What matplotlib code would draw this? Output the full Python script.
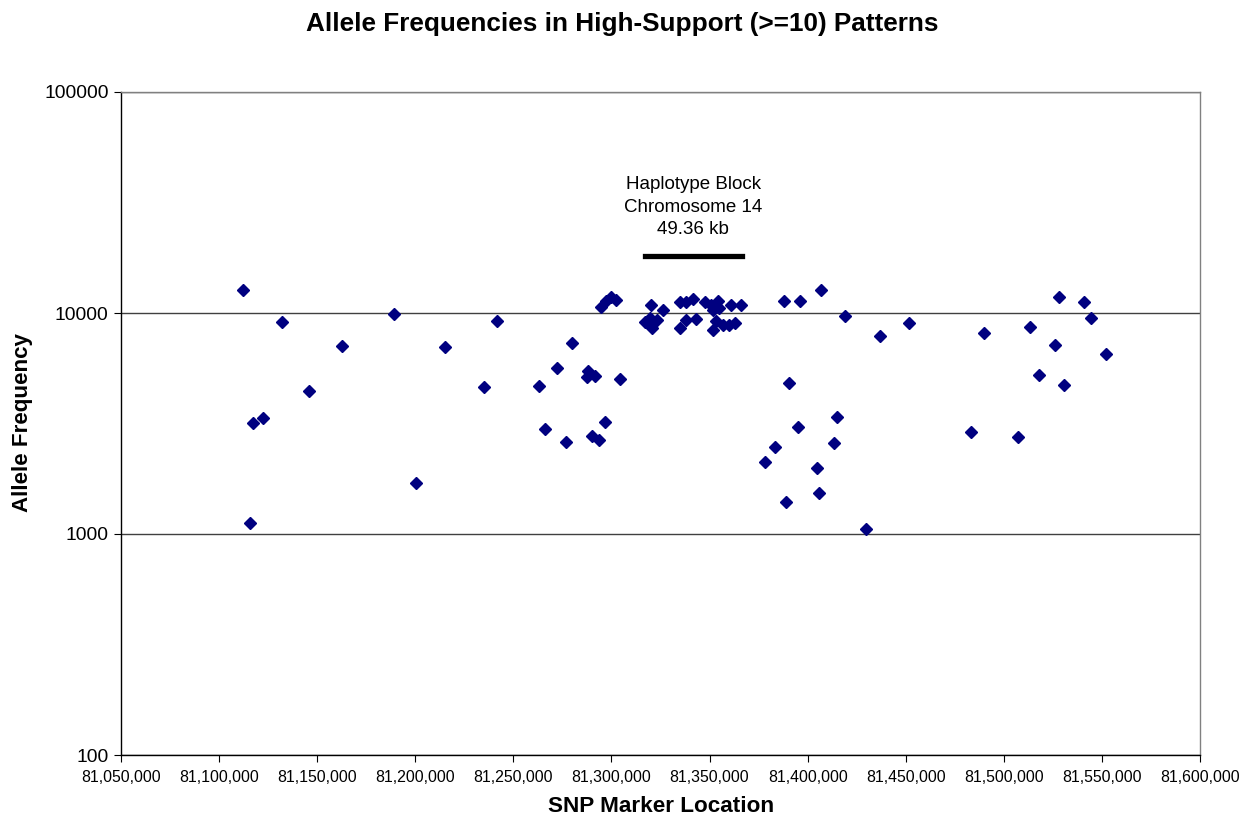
import matplotlib
matplotlib.use('Agg')
import matplotlib.pyplot as plt
from matplotlib.ticker import FuncFormatter, FixedLocator, NullLocator

plt.rcParams['font.family'] = ['Liberation Sans', 'DejaVu Sans']

# SNP positions (bp) and allele frequencies of high-support patterns
pos = [81112180, 81115600, 81117430, 81122530, 81131900, 81145820, 81162640,
       81189140, 81200200, 81215290, 81235170, 81241800, 81262890, 81266260,
       81272380, 81276650, 81279710, 81287870, 81287360, 81291590, 81289910,
       81293780, 81296690, 81304330, 81294520, 81297070, 81299620, 81302170,
       81320150, 81326460, 81317090, 81319640, 81323050, 81320500, 81334770,
       81338180, 81341540, 81347500, 81350920, 81354280, 81351730, 81354790,
       81361110, 81366200, 81338180, 81343270, 81334770, 81353460, 81351730,
       81356830, 81359880, 81362790, 81378240, 81383330, 81387920, 81396080,
       81406780, 81419160, 81451630, 81436850, 81390620, 81414930, 81395210,
       81413400, 81404590, 81405600, 81388940, 81429710, 81528240, 81540830,
       81544550, 81490010, 81513460, 81526040, 81552190, 81517740, 81530480,
       81483080, 81507190]
freq = [12710, 1117, 3190, 3356, 9134, 4437, 7094,
        9865, 1694, 6995, 4627, 9229, 4676, 2977,
        5620, 2618, 7294, 5483, 5150, 5190, 2775,
        2663, 3224, 5020, 10645, 11332, 11817, 11450,
        10870, 10318, 9077, 9463, 9296, 8529, 11178,
        11178, 11567, 11249, 10870, 11332, 10318, 10567,
        10870, 10870, 9296, 9395, 8529, 9200, 8379,
        8825, 8825, 8983, 2123, 2484, 11332, 11332,
        12710, 9692, 9040, 7894, 4808, 3396, 3063,
        2571, 1982, 1535, 1390, 1050, 11852, 11215,
        9522, 8120, 8617, 7143, 6502, 5228, 4708,
        2884, 2748]

# haplotype block on chromosome 14
block_len = 49360
block_mid = 81341650
block_start = block_mid - block_len / 2
block_end = block_mid + block_len / 2
block_y = 18100

fig = plt.figure(figsize=(12.45, 8.18), dpi=100)
ax = fig.add_axes([121/1245, 1 - 755/818, (1200-121)/1245, (755-92)/818])

ax.set_yscale('log')
ax.set_ylim(100, 100000)
ax.set_xlim(81050000, 81600000)

ax.yaxis.set_major_locator(FixedLocator([100, 1000, 10000, 100000]))
ax.yaxis.set_minor_locator(NullLocator())
ax.yaxis.set_major_formatter(FuncFormatter(lambda v, p: '%d' % v))
ax.xaxis.set_major_locator(FixedLocator(range(81050000, 81600001, 50000)))
ax.xaxis.set_major_formatter(FuncFormatter(lambda v, p: '{:,.0f}'.format(v)))

ax.grid(axis='y', color='#404040', lw=1.0)
ax.set_axisbelow(True)

for s in ['top', 'right']:
    ax.spines[s].set_color('#808080')
    ax.spines[s].set_linewidth(1.0)
for s in ['left', 'bottom']:
    ax.spines[s].set_color('black')
    ax.spines[s].set_linewidth(1.0)

ax.tick_params(axis='y', direction='out', length=5, labelsize=13.9, pad=4)
ax.tick_params(axis='x', direction='out', length=5, labelsize=11.4, pad=6)

ax.plot(pos, freq, 'D', color='#000080', ms=6.6, mec='#000080', zorder=3)

ax.plot([block_start, block_end], [block_y, block_y], color='black', lw=3.8,
        solid_capstyle='projecting', zorder=3)
ax.text(block_mid, 30170, 'Haplotype Block\nChromosome 14\n%.2f kb' % (block_len / 1000),
        ha='center', va='center', fontsize=13.5, linespacing=1.4)

fig.text(622/1245, 1 - 24/818, 'Allele Frequencies in High-Support (>=10) Patterns',
         ha='center', va='center', fontsize=18.8, fontweight='bold')
fig.text(661/1245, 1 - 807/818, 'SNP Marker Location', ha='center', va='center',
         fontsize=16.2, fontweight='bold')
fig.text(23/1245, 1 - 423/818, 'Allele Frequency', ha='center', va='center',
         rotation=90, fontsize=16.1, fontweight='bold')

fig.savefig('out.png', dpi=100)
